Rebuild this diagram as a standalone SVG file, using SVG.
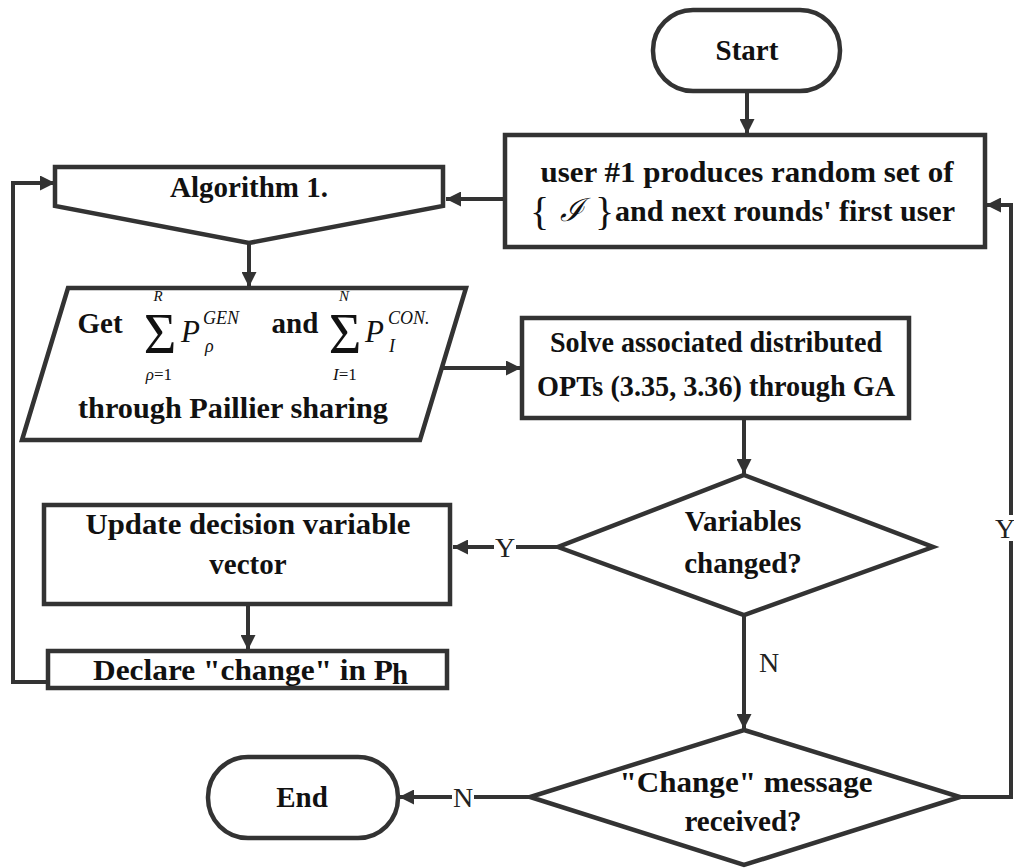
<svg xmlns="http://www.w3.org/2000/svg" width="1014" height="868" viewBox="0 0 1014 868">
  <defs>
    <marker id="arrow" viewBox="0 0 10 10" refX="10" refY="5" markerWidth="15" markerHeight="15" markerUnits="userSpaceOnUse" orient="auto">
      <path d="M0,0 L10,5 L0,10 z" fill="#333"/>
    </marker>
    <style>
      .shape { fill: #fff; stroke: #333; stroke-width: 4.5; stroke-linejoin: miter; }
      .conn { fill: none; stroke: #333; stroke-width: 4; }
      .lbl { font-family: "Liberation Serif", "Times New Roman", serif; font-weight: bold; font-size: 29px; fill: #111; text-anchor: middle; }
      .yn { font-family: "Liberation Serif", "Times New Roman", serif; font-size: 28px; fill: #222; text-anchor: middle; }
      .math { font-family: "Liberation Serif", "Times New Roman", serif; fill: #111; }
      .it { font-style: italic; }
    </style>
  </defs>
  <rect width="1014" height="868" fill="#fff"/>

  <!-- connectors -->
  <g id="connectors">
    <path class="conn" d="M747,92 V134" marker-end="url(#arrow)"/>
    <path class="conn" d="M505,199 H446" marker-end="url(#arrow)"/>
    <path class="conn" d="M249,243 V287" marker-end="url(#arrow)"/>
    <path class="conn" d="M442,368 H521" marker-end="url(#arrow)"/>
    <path class="conn" d="M744,418 V474" marker-end="url(#arrow)"/>
    <path class="conn" d="M558,547 H453" marker-end="url(#arrow)"/>
    <path class="conn" d="M248,604 V650" marker-end="url(#arrow)"/>
    <path class="conn" d="M48,682 H13 V183 H55" marker-end="url(#arrow)"/>
    <path class="conn" d="M744,615 V729" marker-end="url(#arrow)"/>
    <path class="conn" d="M530,797 H399" marker-end="url(#arrow)"/>
    <path class="conn" d="M960,797 H1011 V205 H986" marker-end="url(#arrow)"/>
    <!-- branch labels -->
    <rect x="494" y="535" width="22" height="24" fill="#fff"/>
    <text class="yn" x="505" y="557">Y</text>
    <rect x="996" y="515" width="18" height="26" fill="#fff"/>
    <text class="yn" x="1005" y="538">Y</text>
    <text class="yn" x="769" y="672">N</text>
    <rect x="452" y="785" width="22" height="24" fill="#fff"/>
    <text class="yn" x="463" y="807">N</text>
  </g>

  <g id="start">
    <rect class="shape" x="653" y="10" width="187" height="81" rx="40" ry="40"/>
    <text class="lbl" x="747" y="60">Start</text>
  </g>

  <g id="user1">
    <rect class="shape" x="505" y="135" width="480" height="112"/>
    <text class="lbl" x="747" y="182" textLength="413" lengthAdjust="spacingAndGlyphs">user #1 produces random set of</text>
    <text class="math" x="530" y="225" font-size="40">{</text>
    <text class="math it" x="572" y="221" font-size="32" text-anchor="middle">ℐ</text>
    <text class="math" x="595" y="225" font-size="40">}</text>
    <text class="lbl" x="785" y="221" textLength="340" lengthAdjust="spacingAndGlyphs">and next rounds' first user</text>
  </g>

  <g id="algorithm">
    <polygon class="shape" points="55,167 443,167 443,206 249,243 55,206"/>
    <text class="lbl" x="249" y="197">Algorithm 1.</text>
  </g>

  <g id="paillier">
    <polygon class="shape" points="68,288 466,288 420,440 22,440"/>
    <text class="lbl" x="100" y="333">Get</text>
    <text class="math" x="160" y="353" font-size="56" text-anchor="middle">Σ</text>
    <text class="math it" x="158" y="301" font-size="15" text-anchor="middle">R</text>
    <text class="math" x="159" y="380" font-size="17" text-anchor="middle"><tspan class="it">ρ</tspan>=1</text>
    <text class="math it" x="181" y="342" font-size="31">P</text>
    <text class="math it" x="203" y="324" font-size="18">GEN</text>
    <text class="math it" x="205" y="352" font-size="18">ρ</text>
    <text class="lbl" x="295" y="333">and</text>
    <text class="math" x="345" y="353" font-size="56" text-anchor="middle">Σ</text>
    <text class="math it" x="344" y="301" font-size="15" text-anchor="middle">N</text>
    <text class="math" x="345" y="380" font-size="17" text-anchor="middle"><tspan class="it">I</tspan>=1</text>
    <text class="math it" x="365" y="342" font-size="31">P</text>
    <text class="math it" x="388" y="324" font-size="18">CON.</text>
    <text class="math it" x="389" y="352" font-size="18">I</text>
    <text class="lbl" x="233" y="418" textLength="310" lengthAdjust="spacingAndGlyphs">through Paillier sharing</text>
  </g>

  <g id="solve">
    <rect class="shape" x="522" y="318" width="387" height="100"/>
    <text class="lbl" x="716" y="352" textLength="332" lengthAdjust="spacingAndGlyphs">Solve associated distributed</text>
    <text class="lbl" x="716" y="396" textLength="358" lengthAdjust="spacingAndGlyphs">OPTs (3.35, 3.36) through GA</text>
  </g>

  <g id="variables">
    <polygon class="shape" points="744,475 933,547 744,615 558,547"/>
    <text class="lbl" x="743" y="531">Variables</text>
    <text class="lbl" x="743" y="573">changed?</text>
  </g>

  <g id="update">
    <rect class="shape" x="44" y="505" width="406" height="99"/>
    <text class="lbl" x="248" y="534" textLength="325" lengthAdjust="spacingAndGlyphs">Update decision variable</text>
    <text class="lbl" x="248" y="574">vector</text>
  </g>

  <g id="declare">
    <rect class="shape" x="48" y="651" width="399" height="37"/>
    <text class="lbl" x="243" y="680" textLength="300" lengthAdjust="spacingAndGlyphs">Declare "change" in P</text>
    <text class="lbl" x="400" y="684" font-size="17">h</text>
  </g>

  <g id="change">
    <polygon class="shape" points="744,730 960,797 744,865 530,797"/>
    <text class="lbl" x="746" y="792" textLength="253" lengthAdjust="spacingAndGlyphs">"Change" message</text>
    <text class="lbl" x="743" y="831">received?</text>
  </g>

  <g id="end">
    <rect class="shape" x="208" y="757" width="190" height="81" rx="40" ry="40"/>
    <text class="lbl" x="302" y="807">End</text>
  </g>
</svg>
